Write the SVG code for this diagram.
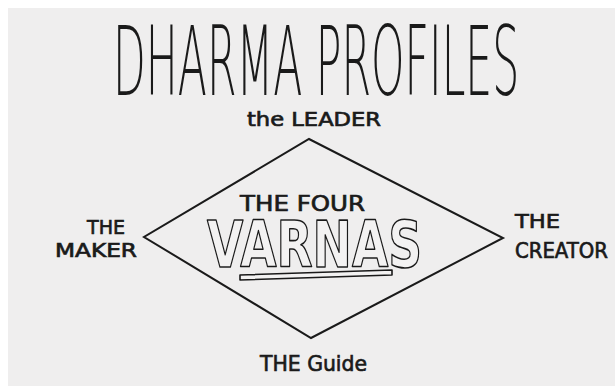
<svg xmlns="http://www.w3.org/2000/svg" width="615" height="392" viewBox="0 0 615 392">
<style>
.lbl{font-family:"DejaVu Sans","Liberation Sans",sans-serif;font-weight:normal;fill:#1a1a1a;stroke:#1a1a1a;stroke-width:0.7}
.title{font-family:"DejaVu Sans","Liberation Sans",sans-serif;font-weight:200;fill:#1a1a1a}
.line{fill:none;stroke:#1a1a1a;stroke-width:2;stroke-linejoin:miter}
.hollow{fill:#f3f2f2;stroke:#1a1a1a;stroke-width:1.6;stroke-linejoin:round}
</style>
<rect width="615" height="392" fill="#ffffff"/>
<rect x="8" y="8" width="607" height="378" fill="#efeeee"/>
<g id="title">
<text class="title" transform="translate(113,95) scale(0.85,1.6)" x="0" y="0" font-size="60" textLength="478" lengthAdjust="spacingAndGlyphs">DHARMA PROFILES</text>
</g>
<g id="connectors">
<polygon class="line" points="309,139 503,238 311,338 144,237"/>
</g>
<g id="center">
<text class="lbl" x="240" y="211" font-size="21" textLength="125" lengthAdjust="spacingAndGlyphs">THE FOUR</text>
<text class="hollow" x="207" y="267" font-size="64" font-family="DejaVu Sans,sans-serif" font-weight="bold" textLength="215" lengthAdjust="spacingAndGlyphs">VARNAS</text>
<polygon class="hollow" points="240,275 392,270 392,275 240,280"/>
</g>
<g id="leader">
<text class="lbl" x="247" y="126" font-size="19" textLength="134" lengthAdjust="spacingAndGlyphs">the LEADER</text>
</g>
<g id="maker">
<text class="lbl" x="87" y="234" font-size="20" textLength="38" lengthAdjust="spacingAndGlyphs">THE</text>
<text class="lbl" x="55" y="257" font-size="19" textLength="82" lengthAdjust="spacingAndGlyphs">MAKER</text>
</g>
<g id="creator">
<text class="lbl" x="515" y="228" font-size="20" textLength="45" lengthAdjust="spacingAndGlyphs">THE</text>
<text class="lbl" x="515" y="258" font-size="21" textLength="93" lengthAdjust="spacingAndGlyphs">CREATOR</text>
</g>
<g id="guide">
<text class="lbl" x="260" y="371" font-size="22" textLength="107" lengthAdjust="spacingAndGlyphs">THE Guide</text>
</g>
</svg>
